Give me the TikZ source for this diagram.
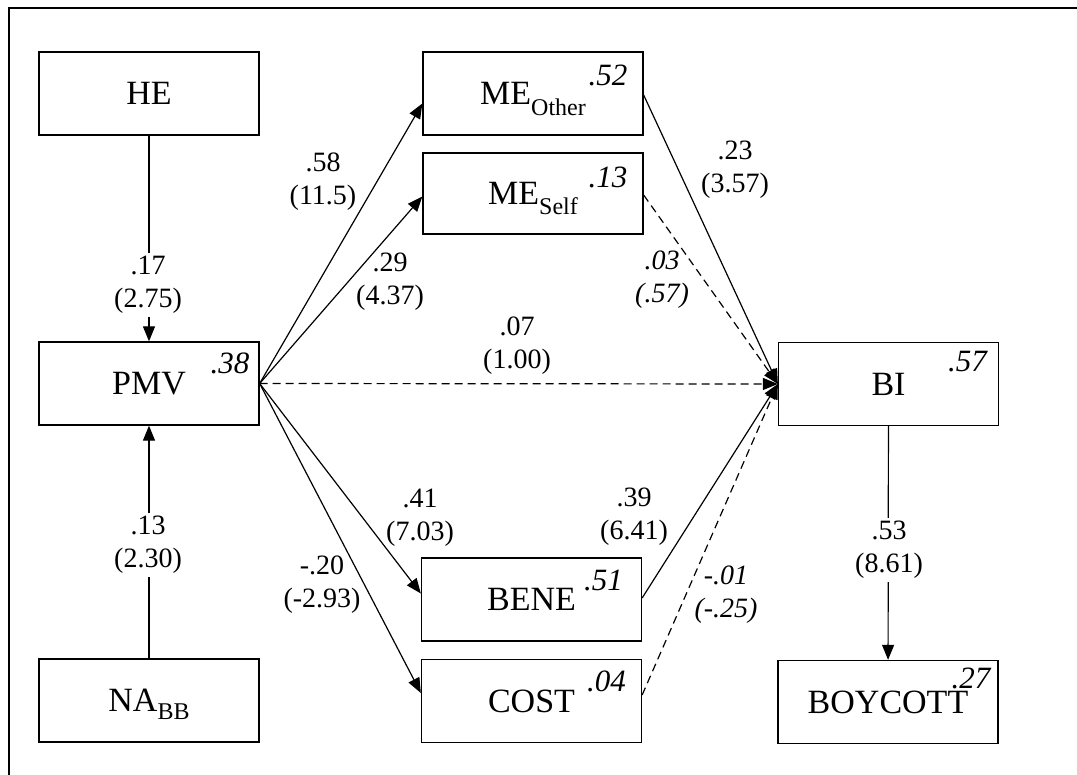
\documentclass[tikz,border=0pt]{standalone}
\usepackage{fontspec}
\setmainfont{Liberation Serif}
\usetikzlibrary{arrows.meta}
% lowered subscript that does not change the box height
\newcommand{\lowsub}[2]{\raisebox{-#1}[0pt][0pt]{\fontsize{24}{24}\selectfont #2}}
\begin{document}
\begin{tikzpicture}[x=1pt,y=-1pt,
  var/.style={draw, line width=1.3pt, minimum width=220pt, minimum height=83pt,
    inner sep=0pt, font=\fontsize{34}{40}\selectfont},
  rsq/.style={anchor=north east, inner sep=0pt, font=\fontsize{31}{34}\selectfont\itshape},
  sig/.style={line width=1.2pt, -{Triangle[length=15pt,width=12pt]}},
  nsig/.style={sig, dash pattern=on 8pt off 5pt},
  coef/.style={align=center, inner sep=0pt, font=\fontsize{28}{33}\selectfont},
  coefi/.style={align=center, inner sep=0pt, font=\fontsize{28}{33}\selectfont\itshape},
  onpath/.style={fill=white, inner ysep=3pt}]
\useasboundingbox (0,0) rectangle (1077,775);

% frame (open towards the lower right)
\draw[line width=2pt] (9,775) -- (9,8) -- (1077,8);

% variables
\node[var] (he)   at (149,93.5)  {HE};
\node[var] (pmv)  at (149,383.5) {PMV};
\node[var] (na)   at (149,700.5) {NA\lowsub{8pt}{BB}};
\node[var] (meo)  at (533,93.5)  {ME\lowsub{11pt}{Other}};
\node[var, minimum height=81pt] (mes) at (533,193.5) {ME\lowsub{10pt}{Self}};
\node[var] (bene) at (531.5,599.5) {BENE};
\node[var] (cost) at (531.5,701)   {COST};
\node[var] (bi)   at (888.5,384)   {BI};
\node[var] (boy)  at (888,702)     {BOYCOTT};

% explained variance
\node[rsq] (r2pmv)  at ([xshift=-10pt,yshift=-11pt]pmv.north east)  {.38};
\node[rsq] (r2meo)  at ([xshift=-16pt,yshift=-13pt]meo.north east)  {.52};
\node[rsq] (r2mes)  at ([xshift=-16pt,yshift=-14pt]mes.north east)  {.13};
\node[rsq] (r2bene) at ([xshift=-19pt,yshift=-12pt]bene.north east) {.51};
\node[rsq] (r2cost) at ([xshift=-16pt,yshift=-12pt]cost.north east) {.04};
\node[rsq] (r2bi)   at ([xshift=-12pt,yshift=-9pt]bi.north east)    {.57};
\node[rsq] (r2boy)  at ([xshift=-8pt,yshift=-8pt]boy.north east)    {.27};

% paths
\draw[sig] (he) -- (pmv);
\draw[sig] (na) -- (pmv);
\draw[sig] (pmv.east) -- ([yshift=-10pt]meo.west);
\draw[sig] (pmv.east) -- ([yshift=-3pt]mes.west);
\draw[nsig] (pmv.east) -- (bi.west);
\draw[sig] (pmv.east) -- ([yshift=6pt]bene.west);
\draw[sig] (pmv.east) -- ([yshift=8pt]cost.west);
\draw[sig] ([yshift=-1.5pt]meo.east) -- (bi.west);
\draw[nsig] ([yshift=-1.5pt]mes.east) -- (bi.west);
\draw[sig] ([yshift=1.5pt]bene.east) -- (bi.west);
\draw[nsig] ([yshift=6pt]cost.east) -- (bi.west);
\draw[sig] (bi) -- (boy);

% coefficients (t-values)
\node[coef, onpath] (c1) at (148,285)  {.17\\(2.75)};
\node[coef, onpath] (c2) at (148,545)  {.13\\(2.30)};
\node[coef] (c3) at (323,182)  {.58\\(11.5)};
\node[coef] (c4) at (390,281.5){.29\\(4.37)};
\node[coef] (c5) at (517,346)  {.07\\(1.00)};
\node[coef] (c6) at (420,518)  {.41\\(7.03)};
\node[coef] (c7) at (322,585)  {-.20\\(-2.93)};
\node[coef] (c8) at (735,169.5){.23\\(3.57)};
\node[coefi] (c9) at (662,280) {.03\\(.57)};
\node[coef] (c10) at (634,517) {.39\\(6.41)};
\node[coefi] (c11) at (726,595){-.01\\(-.25)};
\node[coef, onpath] (c12) at (889,550) {.53\\(8.61)};
\end{tikzpicture}
\end{document}
